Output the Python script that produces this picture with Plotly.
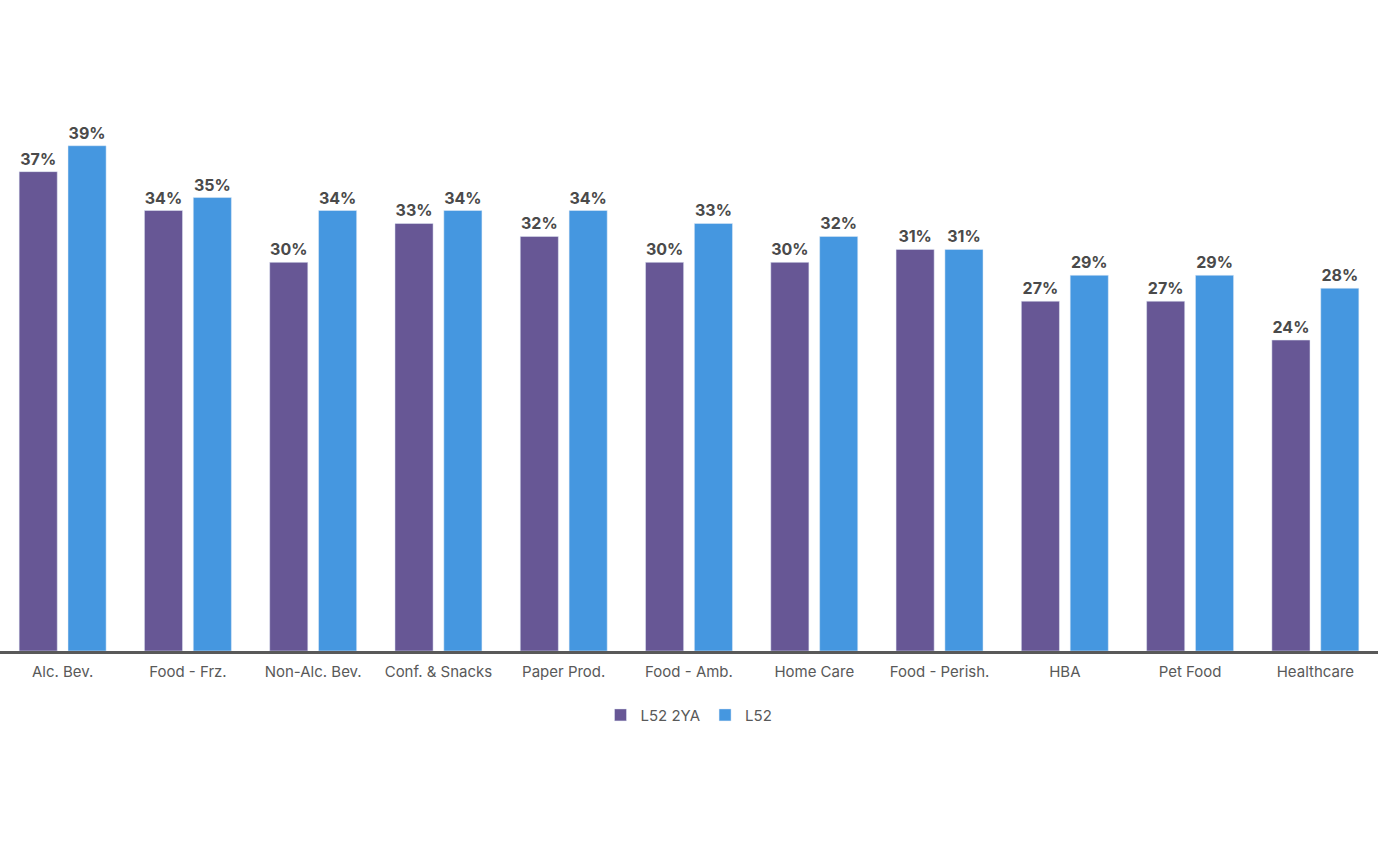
import plotly.graph_objects as go

categories = ["Alc. Bev.", "Food - Frz.", "Non-Alc. Bev.", "Conf. & Snacks", "Paper Prod.",
              "Food - Amb.", "Home Care", "Food - Perish.", "HBA", "Pet Food", "Healthcare"]
l52_2ya = [37, 34, 30, 33, 32, 30, 30, 31, 27, 27, 24]
l52 = [39, 35, 34, 34, 34, 33, 32, 31, 29, 29, 28]

purple = "#675795"
blue = "#4597e0"

fig = go.Figure()
fig.add_trace(go.Bar(x=categories, y=l52_2ya, name="L52 2YA", marker_color=purple,
                     text=[f"{v}%" for v in l52_2ya], textposition="outside",
                     textfont=dict(size=16, color="#4a4a4a", family="Inter", weight="bold"),
                     cliponaxis=False))
fig.add_trace(go.Bar(x=categories, y=l52, name="L52", marker_color=blue,
                     text=[f"{v}%" for v in l52], textposition="outside",
                     textfont=dict(size=16, color="#4a4a4a", family="Inter", weight="bold"),
                     cliponaxis=False))

fig.update_layout(
    width=1378, height=858,
    margin=dict(l=0, r=0, t=68, b=207),
    barmode="group", bargap=0.22, bargroupgap=0.22,
    plot_bgcolor="white", paper_bgcolor="white",
    font=dict(family="Inter", size=15, color="#595959"),
    xaxis=dict(showline=True, linecolor="#595959", linewidth=2.5, ticks="",
               tickfont=dict(size=15, color="#595959"), ticklabelstandoff=5),
    yaxis=dict(range=[0, 45], visible=False, showgrid=False),
    legend=dict(orientation="h", x=0.5, xanchor="center", y=-0.11, yanchor="middle",
                font=dict(size=15, color="#595959"), itemwidth=30),
    showlegend=True,
)

# drop the browser's default body margin so the figure sits at 0,0
fig.write_html("out.html", config={"displayModeBar": False},
               post_script="document.body.style.margin='0';")
